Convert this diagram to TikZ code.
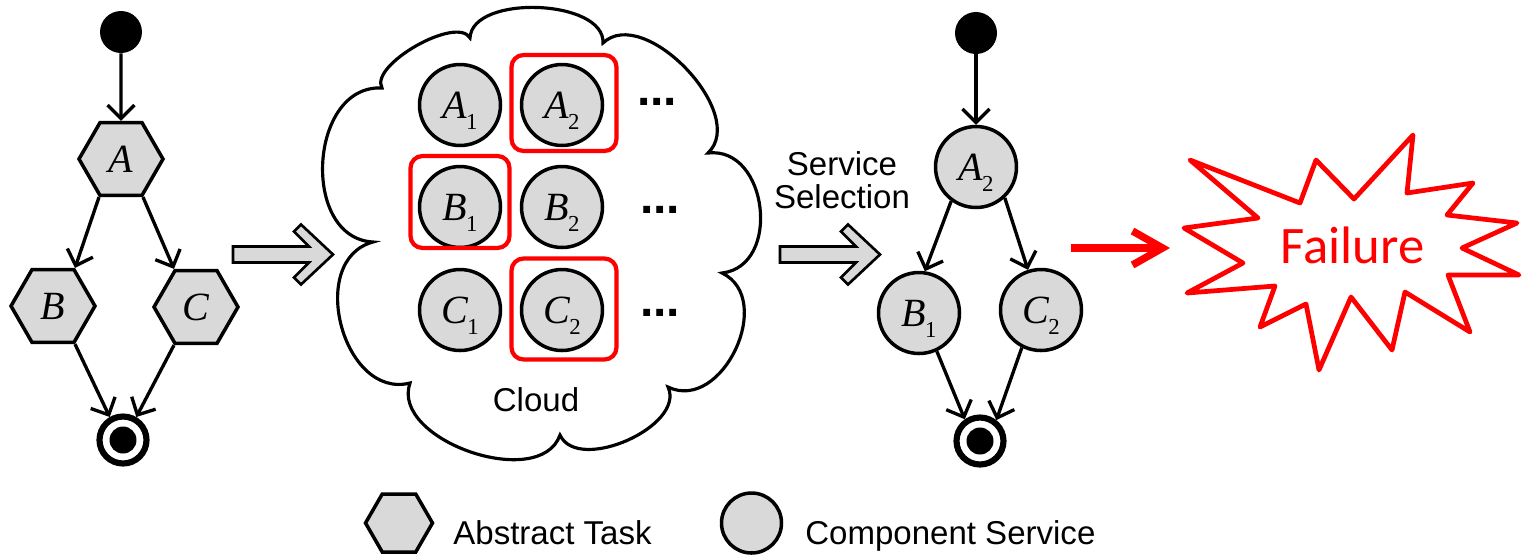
\documentclass[tikz,border=0pt]{standalone}
\usepackage{fontspec}
\setmainfont{Liberation Serif}
\newfontfamily\arialfont{Liberation Sans}
\newfontfamily\calibrifont{Carlito}
\usetikzlibrary{arrows.meta,shapes.geometric}
\definecolor{nodegray}{RGB}{217,217,217}
\definecolor{failred}{RGB}{255,0,0}
% italic service letter with an upright, lowered index
\newcommand\lbl[2]{\textit{#1}\kern-0.5pt\raisebox{-6.5pt}[0pt][0pt]{\fontsize{13pt}{13pt}\selectfont #2}}

\begin{document}
\begin{tikzpicture}[x=0.02cm,y=-0.02cm,
  task/.style={regular polygon, regular polygon sides=6, draw, line width=2pt,
    fill=nodegray, minimum size=1.68cm, inner sep=0pt,
    font=\fontsize{22.8pt}{22.8pt}\selectfont\itshape},
  svc/.style={circle, draw, line width=2pt, fill=nodegray, minimum size=1.62cm,
    inner sep=0pt, font=\fontsize{22.8pt}{22.8pt}\selectfont},
  startdot/.style={circle, fill=black, minimum size=0.84cm, inner sep=0pt},
  enddot/.style={circle, draw, line width=3.5pt, fill=white, minimum size=0.94cm,
    inner sep=0pt, path picture={\fill[black] (path picture bounding box.center) circle (0.27cm);}},
  conn/.style={line width=1.9pt, -{Straight Barb[length=0.27cm, width=0.54cm]}},
  selbox/.style={draw=failred, line width=2.4pt, rounded corners=0.24cm, inner sep=0pt},
  bigarrow/.style={draw, line width=1.5pt, fill=nodegray, line join=miter},
  cloudline/.style={draw, line width=1.8pt, fill=white},
  sans/.style={inner sep=0pt, font=\arialfont\fontsize{18.8pt}{18.8pt}\selectfont},
  dots/.style={inner sep=0pt, font=\arialfont\bfseries\fontsize{27.3pt}{27.3pt}\selectfont},
  failarrow/.style={draw=failred, line width=4.2pt, -{Straight Barb[length=0.6cm, width=0.68cm]}},
  burst/.style={draw=failred, line width=2.7pt, line join=round, fill=white}
]
\useasboundingbox (0,0) rectangle (1522,556);

% ---------- abstract workflow ----------
\node[startdot] (sL) at (121,32) {};
\node[task] (A) at (121,159) {A};
\node[task] (B) at (53,306) {B};
\node[task] (C) at (196,307) {C};
\node[enddot] (eL) at (123,440) {};
\draw[conn] (sL) -- (A.north);
\draw[conn] (A.240) -- (B.60);
\draw[conn] (A.300) -- (C.120);
\draw[conn] (B.300) -- (eL.120);
\draw[conn] (C.240) -- (eL.60);

% ---------- hollow arrows ----------
\path[bigarrow, shift={(333,254.5)}] (-100,-8) -- (-24,-8) -- (-39,-23) -- (-32,-30)
  -- (0,0) -- (-32,30) -- (-39,23) -- (-24,8) -- (-100,8) -- cycle;
\path[bigarrow, shift={(880,254.5)}] (-100,-8) -- (-24,-8) -- (-39,-23) -- (-32,-30)
  -- (0,0) -- (-32,30) -- (-39,23) -- (-24,8) -- (-100,8) -- cycle;

% ---------- cloud of candidate services ----------
\path[cloudline] (382,88)
  .. controls (369,65) and (457,15) .. (470,38)
  .. controls (472,-6) and (605,-1) .. (603,43)
  .. controls (644,4) and (749,114) .. (708,153)
  .. controls (768,146) and (782,266) .. (722,273)
  .. controls (776,299) and (722,413) .. (668,387)
  .. controls (686,426) and (578,474) .. (560,435)
  .. controls (540,492) and (390,440) .. (410,383)
  .. controls (343,400) and (306,260) .. (373,242)
  .. controls (300,238) and (309,84) .. (382,88) -- cycle;

\node[svc] (cA1) at (460,105) {\lbl{A}{1}};
\node[svc] (cA2) at (562,105) {\lbl{A}{2}};
\node[svc] (cB1) at (460,207) {\lbl{B}{1}};
\node[svc] (cB2) at (562,207) {\lbl{B}{2}};
\node[svc] (cC1) at (460,310) {\lbl{C}{1}};
\node[svc] (cC2) at (562,310) {\lbl{C}{2}};
\node[dots] (dA) at (657,102) {...};
\node[dots] (dB) at (660,210) {...};
\node[dots] (dC) at (660,313) {...};
\node[selbox, minimum width=2.1cm, minimum height=1.92cm] (selA) at (564,103) {};
\node[selbox, minimum width=1.98cm, minimum height=1.84cm] (selB) at (460,202) {};
\node[selbox, minimum width=2.1cm, minimum height=2.02cm] (selC) at (564,309) {};
\node[sans] (cloudlbl) at (536,400) {Cloud};

\node[sans, align=center] (seltxt) at (842,180) {Service\\Selection};

% ---------- concrete workflow ----------
\node[startdot] (sR) at (976,33) {};
\node[svc] (A2) at (976,167) {\lbl{A}{2}};
\node[svc] (B1) at (919,313) {\lbl{B}{1}};
\node[svc] (C2) at (1041,310) {\lbl{C}{2}};
\node[enddot] (eR) at (980,441) {};
\draw[conn] (sR) -- (A2);
\draw[conn] (A2.234) -- (B1.82);
\draw[conn] (A2.313) -- (C2.108);
\draw[conn] (B1.295) -- (eR.125);
\draw[conn] (C2.243) -- (eR.52);

% ---------- failure ----------
\coordinate (failFrom) at (1071,248);
\coordinate (failTo) at (1170,248);
\draw[failarrow] (failFrom) -- (failTo);
\path[burst] (1190,160) -- (1300,203) -- (1316,160) -- (1354,199) -- (1413,135)
  -- (1407,193) -- (1473,183) -- (1447,215) -- (1517,223) -- (1462,248)
  -- (1519,275) -- (1448,275) -- (1470,332) -- (1405,292) -- (1392,350)
  -- (1351,297) -- (1319,370) -- (1306,304) -- (1260,327) -- (1275,286)
  -- (1187,293) -- (1243,263) -- (1184,228) -- (1258,218) -- cycle;
\node[inner sep=0pt, anchor=base, text=failred,
  font=\calibrifont\fontsize{30pt}{30pt}\selectfont] (failtxt) at (1352.5,263) {Failure};

% ---------- legend ----------
\node[task, minimum size=1.34cm] (lgTask) at (399,523) {};
\node[sans, anchor=base west] (lgTaskTxt) at (453,544) {Abstract Task};
\node[svc, minimum size=1.2cm] (lgSvc) at (751.5,523) {};
\node[sans, anchor=base west] (lgSvcTxt) at (805,544) {Component Service};
\end{tikzpicture}
\end{document}
